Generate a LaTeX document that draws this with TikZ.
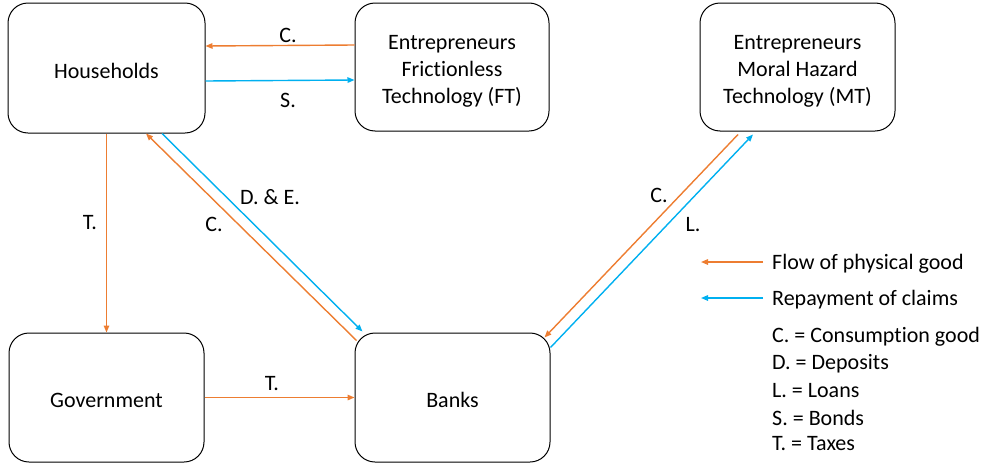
\documentclass[tikz,border=0pt]{standalone}
\usepackage{fontspec}
\setmainfont[Ligatures=NoCommon]{Carlito}
\usetikzlibrary{arrows.meta,calc}
\definecolor{flow}{HTML}{ED7D31}
\definecolor{repay}{HTML}{00B0F0}
\begin{document}
\begin{tikzpicture}[x=1pt,y=-1pt,
  box/.style={draw,line width=1pt,rounded corners=20pt,align=center,font=\fontsize{22}{27}\selectfont,inner sep=0pt,execute at begin node={\rule{0pt}{21pt}}},
  tallbox/.style={draw,line width=1pt,rounded corners=20pt,align=center,font=\fontsize{22}{27}\selectfont,inner sep=0pt},
  lbl/.style={font=\fontsize{22}{27}\selectfont,inner sep=0pt},
  fl/.style={draw=flow,line width=1.4pt,-{Triangle[length=7pt,width=5.5pt]}},
  rp/.style={draw=repay,line width=1.4pt,-{Triangle[length=7pt,width=5.5pt]}}]
\useasboundingbox (0,0) rectangle (990,466);
\node[box,minimum width=197pt,minimum height=130pt] (hh) at (106.5,68) {Households};
\node[tallbox,minimum width=194pt,minimum height=128pt] (ft) at (452,67) {\mbox{}\\[-4pt]Entrepreneurs\\Frictionless\\Technology (FT)};
\node[tallbox,minimum width=195pt,minimum height=128pt] (mt) at (797.5,67) {\mbox{}\\[-4pt]Entrepreneurs\\Moral Hazard\\Technology (MT)};
\node[box,minimum width=195pt,minimum height=129pt] (gv) at (106.5,397.5) {Government};
\node[box,minimum width=195pt,minimum height=129pt] (bk) at (452.5,397.5) {Banks};
% HH - FT
\draw[fl] ([yshift=22pt]ft.west) -- ([yshift=22pt]hh.east);
\draw[rp] ([yshift=-13pt]hh.east) -- ([yshift=-13pt]ft.west);
\node[lbl] (lc1) at (288,35) {C.};
\node[lbl] (ls1) at (288,100) {S.};
% HH - Gov
\draw[fl] (hh.south) -- (gv.north);
\node[lbl] (lt1) at (90,223) {T.};
% Gov - Banks
\draw[fl] (gv.east) -- (bk.west);
\node[lbl] (lt2) at (272,384) {T.};
% HH - Banks
\draw[fl] ([xshift=2pt,yshift=-8pt]bk.north west) -- ([xshift=39.5pt]hh.south);
\draw[rp] ([xshift=55.5pt]hh.south) -- ([xshift=8pt,yshift=1pt]bk.north west);
\node[lbl] (lde) at (270,197) {D. \& E.};
\node[lbl] (lc2) at (214,224) {C.};
% MT - Banks
\draw[fl] ([xshift=-59.5pt,yshift=-3pt]mt.south) -- ([xshift=-6pt,yshift=-5pt]bk.north east);
\draw[rp] ([yshift=-15pt]bk.north east) -- ([xshift=-44.5pt,yshift=-3pt]mt.south);
\node[lbl] (lc3) at (659,195) {C.};
\node[lbl] (ll) at (693,225) {L.};
% legend
\coordinate (lf1) at (763,262);
\coordinate (lf2) at (701,262);
\coordinate (lr1) at (763,298);
\coordinate (lr2) at (701,298);
\draw[fl] (lf1) -- (lf2);
\draw[rp] (lr1) -- (lr2);
\node[lbl,anchor=west] (tf) at (772,264) {Flow of physical good};
\node[lbl,anchor=west] (tr) at (772,300) {Repayment of claims};
\node[lbl,anchor=west] (k1) at (772,337) {C. = Consumption good};
\node[lbl,anchor=west] (k2) at (772,364) {D. = Deposits};
\node[lbl,anchor=west] (k3) at (772,391) {L. = Loans};
\node[lbl,anchor=west] (k4) at (772,418) {S. = Bonds};
\node[lbl,anchor=west] (k5) at (772,444) {T. = Taxes};
\end{tikzpicture}
\end{document}
